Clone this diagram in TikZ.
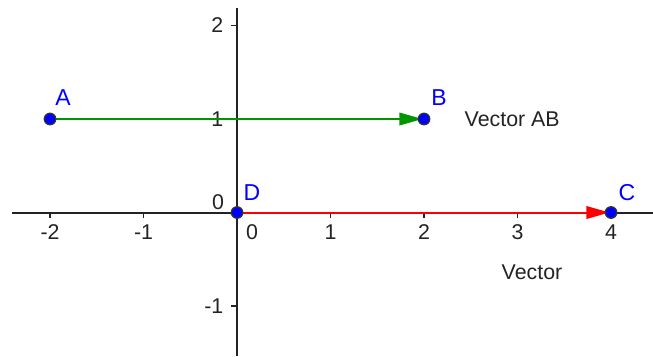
\documentclass[tikz,border=0pt]{standalone}
\usepackage{fontspec}
\setmainfont{Liberation Sans}
\usetikzlibrary{arrows.meta, positioning}
\definecolor{ggblue}{RGB}{0,0,255}
\definecolor{gggreen}{RGB}{0,150,0}
\definecolor{ggred}{RGB}{255,0,0}
\definecolor{ggaxis}{RGB}{35,35,35}

\begin{document}
\begin{tikzpicture}[
    x=1cm, y=1cm,
    axis/.style={ggaxis, line width=0.6pt},
    tickmark/.style={ggaxis, line width=0.5pt},
    ticklabel/.style={font=\fontsize{6.5}{7}\selectfont, text=ggaxis, inner sep=0pt},
    pt/.style={circle, draw=black!80, fill=ggblue, line width=0.4pt, minimum size=3.5pt, inner sep=0pt},
    ptlabel/.style={font=\fontsize{7}{8}\selectfont, text=ggblue, inner sep=0pt},
    vec/.style={line width=0.6pt, -{Triangle[length=7pt,width=3.8pt]}, shorten >=0.5pt},
    caption/.style={font=\fontsize{6.5}{8}\selectfont, text=ggaxis, inner sep=0pt}
]
    \useasboundingbox (-2.535,-1.535) rectangle (4.449,2.273);

    % Axes
    \coordinate (xmin) at (-2.41,0);
    \coordinate (xmax) at (4.449,0);
    \coordinate (ymin) at (0,-1.535);
    \coordinate (ymax) at (0,2.187);
    \draw[axis] (xmin) -- (xmax);
    \draw[axis] (ymin) -- (ymax);

    % x ticks
    \foreach \x in {-2,-1,1,2,3,4} {
        \draw[tickmark] (\x,0) -- (\x,-0.064);
        \node[ticklabel] (xt\x) at (\x,-0.21) {\x};
    }

    % y ticks
    \foreach \y in {-1,1,2} {
        \draw[tickmark] (0,\y) -- (-0.064,\y);
        \node[ticklabel, anchor=east] (yt\y) at (-0.14,\y) {\y};
    }

    % zero labels
    \node[ticklabel] (yzero) at (-0.203,0.112) {0};
    \node[ticklabel] (xzero) at (0.16,-0.209) {0};

    % Points
    \coordinate (A) at (-2,1);
    \coordinate (B) at (2,1);
    \coordinate (D) at (0,0);
    \coordinate (C) at (4,0);

    % Vectors
    \draw[vec, gggreen] (A) -- (B);
    \draw[vec, ggred] (D) -- (C);

    % Dots
    \node[pt] (Adot) at (A) {};
    \node[pt] (Bdot) at (B) {};
    \node[pt] (Ddot) at (D) {};
    \node[pt] (Cdot) at (C) {};

    % Point labels
    \node[ptlabel] (Alabel) at (-1.86,1.225) {A};
    \node[ptlabel] (Blabel) at (2.16,1.225) {B};
    \node[ptlabel] (Dlabel) at (0.16,0.209) {D};
    \node[ptlabel] (Clabel) at (4.17,0.209) {C};

    % Captions
    \node[caption, anchor=west, right=0.36cm of Bdot] (vecAB) {Vector AB};
    \node[caption] (vecDC) at (3.155,-0.636) {Vector};

\end{tikzpicture}
\end{document}
